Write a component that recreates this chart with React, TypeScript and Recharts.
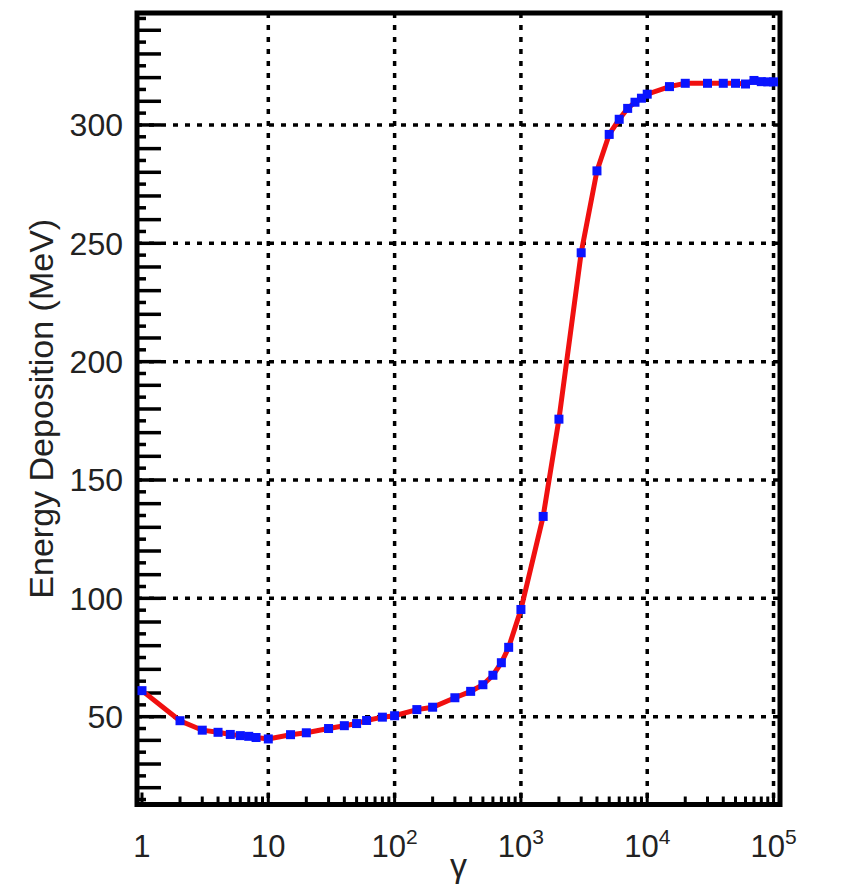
import {
  CartesianGrid,
  ComposedChart,
  Label,
  Line,
  ReferenceArea,
  ReferenceLine,
  XAxis,
  YAxis,
} from "recharts";

// Lorentz factor (log axis) and deposited energy in MeV.
const GAMMA = [
  1, 2, 3, 4, 5, 6, 7, 8, 10, 15, 20, 30, 40, 50, 60, 80, 100, 150, 200, 300,
  400, 500, 600, 700, 800, 1000, 1500, 2000, 3000, 4000, 5000, 6000, 7000,
  8000, 9000, 10000, 15000, 20000, 30000, 40000, 50000, 60000, 70000, 80000,
  90000, 100000,
];
const ENERGY_MEV = [
  61, 48.3, 44.3, 43.4, 42.5, 42, 41.7, 41.2, 40.6, 42.4, 43.2, 45, 46.2, 47.1,
  48.4, 49.8, 50.4, 53, 54, 58, 60.7, 63.5, 67.5, 72.8, 79.3, 95.3, 134.6,
  175.7, 246, 280.6, 296, 302.4, 307, 309.6, 311.3, 313, 316.2, 317.6, 317.6,
  317.6, 317.6, 317.3, 318.8, 318.3, 318.2, 318.2,
];

const X_TICKS = [1, 10, 100, 1000, 10000, 100000];
const X_GRID = [10, 100, 1000, 10000, 100000];
const Y_TICKS = [50, 100, 150, 200, 250, 300];
const X_DOMAIN: [number, number] = [0.913, 112500];
const Y_DOMAIN: [number, number] = [12.9, 347.3];

// minor ticks on the left frame every 5 MeV, on the bottom frame at 2..9 per decade
const Y_MINOR: number[] = [];
for (let v = 15; v <= 345; v += 5) Y_MINOR.push(v);
const X_MINOR: number[] = [];
for (let d = 1; d <= 10000; d *= 10) {
  for (let k = 1; k <= 9; k++) X_MINOR.push(k * d);
}
X_MINOR.push(100000);

const FONT = "'Liberation Sans', Arial, Helvetica, sans-serif";
const TEXT = "#222";

const data = GAMMA.map((g, i) => ({ gamma: g, energy: ENERGY_MEV[i] }));

function XTick(props: any) {
  const { x, y, payload } = props;
  const exp = Math.round(Math.log10(payload.value));
  return (
    <text
      x={x}
      y={y + 50}
      textAnchor="middle"
      fontSize={31}
      fill={TEXT}
      fontFamily={FONT}
    >
      {exp === 0 ? "1" : "10"}
      {exp >= 2 ? (
        <tspan dy={-13} fontSize={21}>
          {exp}
        </tspan>
      ) : null}
    </text>
  );
}

function YTitle(props: any) {
  const vb = props.viewBox ?? { x: 29, y: 5, width: 100, height: 791.5 };
  const cx = vb.x + 4;
  const cy = vb.y + vb.height / 2;
  return (
    <text
      x={cx}
      y={cy}
      transform={`rotate(-90 ${cx} ${cy})`}
      textAnchor="middle"
      dominantBaseline="central"
      fontSize={34}
      fill={TEXT}
      fontFamily={FONT}
    >
      Energy Deposition (MeV)
    </text>
  );
}

function XTitle(props: any) {
  const vb = props.viewBox ?? { x: 129, y: 796.5, width: 643, height: 60 };
  return (
    <text
      x={vb.x + vb.width / 2}
      y={vb.y + 72}
      textAnchor="middle"
      fontSize={34}
      fill={TEXT}
      fontFamily={FONT}
    >
      γ
    </text>
  );
}

function SquareDot(props: any) {
  const { cx, cy } = props;
  if (cx == null || cy == null) return null;
  return <rect x={cx - 4.5} y={cy - 4.5} width={9} height={9} fill="#0a14ff" />;
}

export default function App() {
  return (
    <div style={{ width: 838, height: 879, background: "#fff" }}>
      <ComposedChart
        width={838}
        height={879}
        data={data}
        margin={{ top: 5, right: 66, bottom: 22.5, left: 29 }}
        style={{ fontFamily: FONT }}
      >
        <CartesianGrid
          stroke="#000"
          strokeWidth={3.5}
          strokeDasharray="5 7"
          verticalValues={X_GRID}
          horizontalValues={Y_TICKS}
        />
        <XAxis
          dataKey="gamma"
          type="number"
          scale="log"
          domain={X_DOMAIN}
          ticks={X_TICKS}
          interval={0}
          allowDataOverflow
          axisLine={false}
          tickLine={false}
          tickSize={0}
          height={60}
          tick={<XTick />}
        >
          <Label content={<XTitle />} />
        </XAxis>
        <YAxis
          type="number"
          domain={Y_DOMAIN}
          ticks={Y_TICKS}
          interval={0}
          allowDataOverflow
          axisLine={false}
          tickLine={false}
          tickSize={0}
          tickMargin={14}
          width={100}
          tick={{ fontSize: 32, fill: TEXT, fontFamily: FONT }}
        >
          <Label content={<YTitle />} />
        </YAxis>
        {Y_MINOR.map((v) => (
          <ReferenceLine
            key={`ym${v}`}
            y={v}
            ifOverflow="visible"
            shape={(p: any) => {
              const x0 = Math.min(p.x1, p.x2);
              const len = v % 10 === 0 ? 24 : 9;
              return (
                <line x1={x0} y1={p.y1} x2={x0 + len} y2={p.y1} stroke="#000" strokeWidth={3.5} />
              );
            }}
          />
        ))}
        {X_MINOR.map((v) => (
          <ReferenceLine
            key={`xm${v}`}
            x={v}
            ifOverflow="visible"
            shape={(p: any) => {
              const y0 = Math.max(p.y1, p.y2);
              const decade = Math.abs(Math.log10(v) - Math.round(Math.log10(v))) < 1e-9;
              const len = decade ? 12 : 8;
              return (
                <line x1={p.x1} y1={y0} x2={p.x1} y2={y0 - len} stroke="#000" strokeWidth={3} />
              );
            }}
          />
        ))}
        <ReferenceArea
          x1={X_DOMAIN[0]}
          x2={X_DOMAIN[1]}
          y1={Y_DOMAIN[0]}
          y2={Y_DOMAIN[1]}
          ifOverflow="visible"
          fill="none"
          fillOpacity={0}
          stroke="#000"
          strokeWidth={5}
        />
        <Line
          type="linear"
          dataKey="energy"
          stroke="#f01010"
          strokeWidth={5}
          dot={<SquareDot />}
          activeDot={false}
          isAnimationActive={false}
        />
      </ComposedChart>
    </div>
  );
}
